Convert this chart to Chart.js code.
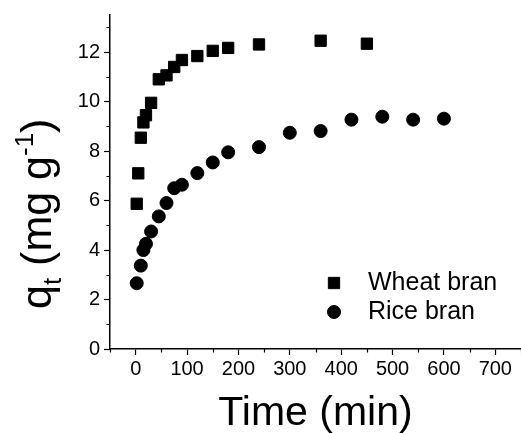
<!DOCTYPE html>
<html>
<head>
<meta charset="utf-8">
<script src="https://cdn.jsdelivr.net/npm/chart.js@4"></script>
<style>
  html, body { margin: 0; padding: 0; background: #fff; }
  #wrap { width: 521px; height: 433px; }
</style>
</head>
<body>
<div id="wrap"><canvas id="chart" width="521" height="433"></canvas></div>
<script>
// data
const wheatTime = [2, 5, 10, 15, 20, 30, 45, 60, 75, 90, 120, 150, 180, 240, 360, 450]
const wheatQ = [5.87, 7.1, 8.54, 9.16, 9.45, 9.95, 10.9, 11.06, 11.4, 11.68, 11.84, 12.05, 12.17, 12.31, 12.46, 12.34]
const riceTime = [2, 10, 15, 20, 30, 45, 60, 75, 90, 120, 150, 180, 240, 300, 360, 420, 480, 540, 600]
const riceQ = [2.66, 3.37, 4.0, 4.25, 4.75, 5.36, 5.9, 6.5, 6.64, 7.11, 7.54, 7.95, 8.16, 8.74, 8.81, 9.27, 9.39, 9.27, 9.31]
const seriesNames = ["Wheat bran", "Rice bran"]
const xLabels = [0, 100, 200, 300, 400, 500, 600, 700]
const yLabels = [0, 2, 4, 6, 8, 10, 12]

const FONT = '"Liberation Sans", Arial, sans-serif'

function pts(xs, ys) {
      return xs.map((x, i) => ({ x: x, y: ys[i] }))
}

// short minor ticks between the labelled ones
const minorTicks = {
      id: 'minorTicks',
      afterDraw(chart) {
            const ctx = chart.ctx
            const xs = chart.scales.x, ys = chart.scales.y
            ctx.save()
            ctx.strokeStyle = '#000'
            ctx.lineWidth = 1.2
            ctx.beginPath()
            for (let v = -50; v <= 750; v += 50) {
                  if (xLabels.includes(v)) continue
                  const px = Math.round(xs.getPixelForValue(v)) + 0.5
                  ctx.moveTo(px, ys.bottom)
                  ctx.lineTo(px, ys.bottom + 3.5)
            }
            for (let v = 1; v <= 13; v++) {
                  if (yLabels.includes(v)) continue
                  const py = Math.round(ys.getPixelForValue(v)) + 0.5
                  ctx.moveTo(xs.left, py)
                  ctx.lineTo(xs.left - 3.5, py)
            }
            ctx.stroke()
            ctx.restore()
      }
}

// y title with subscript and superscript
const yTitle = {
      id: 'yTitle',
      afterDraw(chart) {
            const ctx = chart.ctx
            const parts = [
                  { t: 'q', size: 43, dy: 0 },
                  { t: 't', size: 26, dy: 10 },
                  { t: ' (mg g', size: 43, dy: 0 },
                  { t: '-1', size: 26, dy: -18 },
                  { t: ')', size: 43, dy: 0 }
            ]
            ctx.save()
            ctx.translate(51, 309)
            ctx.rotate(-Math.PI / 2)
            ctx.fillStyle = '#000'
            ctx.textBaseline = 'alphabetic'
            ctx.textAlign = 'left'
            let x = 0
            parts.forEach(p => {
                  ctx.font = p.size + 'px ' + FONT
                  ctx.fillText(p.t, x, p.dy)
                  x += ctx.measureText(p.t).width
            })
            ctx.restore()
      }
}

// legend inside the plot
const insideLegend = {
      id: 'insideLegend',
      afterDraw(chart) {
            const ctx = chart.ctx
            const rows = [
                  { y: 283, style: 'rect', r: 8 },
                  { y: 312, style: 'circle', r: 6.5 }
            ]
            ctx.save()
            rows.forEach((row, i) => {
                  ctx.fillStyle = '#000'
                  ctx.strokeStyle = '#000'
                  ctx.lineWidth = 1
                  Chart.helpers.drawPoint(ctx, { pointStyle: row.style, radius: row.r, borderWidth: 1, rotation: 0 }, 334, row.y)
                  ctx.font = '25px ' + FONT
                  ctx.textBaseline = 'middle'
                  ctx.fillText(chart.data.datasets[i].label, 368, row.y)
            })
            ctx.restore()
      }
}

window.onload = () => {
      const ctx = document.getElementById('chart').getContext('2d')
      new Chart(ctx, {
            type: 'scatter',
            data: {
                  datasets: [{
                        label: seriesNames[0],
                        data: pts(wheatTime, wheatQ),
                        pointStyle: 'rect',
                        pointRadius: 8,
                        backgroundColor: '#000',
                        borderColor: '#000',
                        borderWidth: 1
                  }, {
                        label: seriesNames[1],
                        data: pts(riceTime, riceQ),
                        pointStyle: 'circle',
                        pointRadius: 6.5,
                        backgroundColor: '#000',
                        borderColor: '#000',
                        borderWidth: 1
                  }]
            },
            options: {
                  responsive: false,
                  animation: false,
                  layout: { autoPadding: false, padding: { top: 15, right: 0, left: 0, bottom: 0 } },
                  plugins: {
                        legend: { display: false },
                        tooltip: { enabled: false }
                  },
                  scales: {
                        x: {
                              type: 'linear',
                              min: -50,
                              max: 750,
                              afterFit: s => { s.height = 84; s.paddingLeft = 0; s.paddingRight = 0 },
                              border: { display: true, color: '#000', width: 1.5 },
                              grid: {
                                    drawOnChartArea: false,
                                    tickLength: 6,
                                    tickWidth: 1.2,
                                    tickColor: c => xLabels.includes(c.tick.value) ? '#000' : 'rgba(0,0,0,0)'
                              },
                              ticks: {
                                    stepSize: 50,
                                    maxRotation: 0,
                                    autoSkip: false,
                                    padding: 2,
                                    color: '#000',
                                    font: { family: FONT, size: 20 },
                                    callback: v => xLabels.includes(v) ? String(v) : ''
                              },
                              title: {
                                    display: true,
                                    text: 'Time (min)',
                                    color: '#000',
                                    font: { family: FONT, size: 41 },
                                    padding: { top: 0, bottom: -5 }
                              }
                        },
                        y: {
                              min: 0,
                              max: 13.5,
                              afterFit: s => { s.width = 110; s.paddingTop = 0; s.paddingBottom = 0 },
                              border: { display: true, color: '#000', width: 1.5 },
                              grid: {
                                    drawOnChartArea: false,
                                    tickLength: 6,
                                    tickWidth: 1.2,
                                    tickColor: c => yLabels.includes(c.tick.value) ? '#000' : 'rgba(0,0,0,0)'
                              },
                              ticks: {
                                    stepSize: 1,
                                    includeBounds: false,
                                    autoSkip: false,
                                    padding: 4,
                                    color: '#000',
                                    font: { family: FONT, size: 20 },
                                    callback: v => yLabels.includes(v) ? String(v) : ''
                              }
                        }
                  }
            },
            plugins: [minorTicks, yTitle, insideLegend]
      })
}
</script>
</body>
</html>
